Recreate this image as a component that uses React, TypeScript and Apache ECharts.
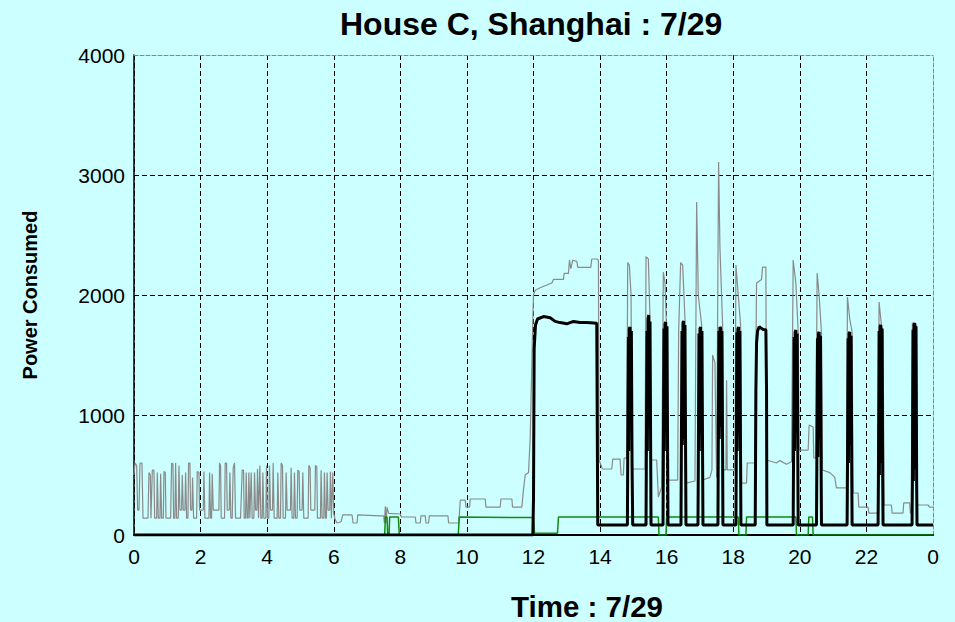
import React, { useEffect, useRef } from "react";
import * as echarts from "echarts";

const FONT = "'Liberation Sans', Arial, Helvetica, sans-serif";

const titleText = "House C, Shanghai : 7/29";
const xAxisTitle = "Time : 7/29";
const yAxisTitle = "Power Consumed";
const xTickLabels: Record<number, string> = { 0: "0", 2: "2", 4: "4", 6: "6", 8: "8", 10: "10", 12: "12", 14: "14", 16: "16", 18: "18", 20: "20", 22: "22", 24: "0" };
const yTickLabels: Record<number, string> = { 0: "0", 1000: "1000", 2000: "2000", 3000: "3000", 4000: "4000" };

// total power (thin gray)
const grayPower: [number, number][] = [
  [0, 500], [0.03, 600], [0.08, 580], [0.11, 208], [0.15, 208], [0.18, 600], [0.24, 600], [0.27, 140], [0.42, 140], [0.45, 520], [0.49, 500], [0.51, 140],
  [0.55, 540], [0.6, 540], [0.62, 140], [0.68, 140], [0.7, 520], [0.73, 140], [0.78, 140], [0.8, 510], [0.83, 140], [0.88, 140], [0.9, 530], [0.94, 520],
  [0.96, 140], [1.1, 140], [1.13, 600], [1.17, 590], [1.19, 140], [1.23, 140], [1.25, 600], [1.28, 140], [1.33, 140], [1.35, 580], [1.38, 208], [1.43, 208],
  [1.45, 500], [1.48, 208], [1.53, 208], [1.55, 520], [1.58, 140], [1.62, 140], [1.64, 600], [1.68, 600], [1.7, 208], [1.74, 208], [1.76, 480], [1.79, 140],
  [1.88, 140], [1.9, 530], [1.95, 520], [1.97, 208], [2.08, 208], [2.1, 530], [2.13, 140], [2.25, 140], [2.27, 520], [2.3, 140], [2.33, 140], [2.35, 510],
  [2.38, 208], [2.55, 208], [2.57, 600], [2.6, 580], [2.62, 140], [2.72, 140], [2.74, 600], [2.78, 600], [2.8, 208], [2.86, 208], [2.88, 520], [2.91, 140],
  [2.95, 140], [2.98, 560], [3.02, 600], [3.05, 140], [3.2, 140], [3.25, 540], [3.29, 540], [3.31, 140], [3.35, 140], [3.37, 520], [3.4, 140], [3.43, 140],
  [3.45, 520], [3.48, 140], [3.5, 140], [3.52, 520], [3.55, 140], [3.6, 140], [3.62, 520], [3.65, 208], [3.69, 208], [3.71, 550], [3.74, 140], [3.76, 140],
  [3.78, 580], [3.81, 140], [3.85, 140], [3.87, 520], [3.9, 140], [3.96, 140], [3.98, 580], [4.01, 140], [4.05, 140], [4.07, 580], [4.1, 208], [4.16, 208],
  [4.18, 600], [4.21, 140], [4.3, 140], [4.32, 520], [4.35, 140], [4.4, 140], [4.42, 600], [4.46, 580], [4.48, 140], [4.55, 140], [4.57, 520], [4.6, 208],
  [4.7, 208], [4.72, 560], [4.75, 140], [4.8, 140], [4.82, 520], [4.85, 140], [4.9, 140], [4.92, 540], [4.96, 530], [4.98, 208], [5.05, 208], [5.07, 520],
  [5.1, 140], [5.23, 140], [5.25, 580], [5.29, 560], [5.31, 208], [5.43, 208], [5.45, 580], [5.49, 570], [5.51, 140], [5.6, 140], [5.62, 540], [5.65, 140],
  [5.7, 140], [5.72, 520], [5.75, 140], [5.78, 140], [5.8, 520], [5.83, 208], [5.88, 208], [5.9, 530], [5.93, 140], [5.95, 140], [5.97, 520], [6.0, 180],
  [6.04, 130], [6.1, 100], [6.22, 110], [6.27, 167], [6.55, 167], [6.58, 100], [6.7, 100], [6.72, 167], [7.4, 160], [7.5, 160], [7.52, 100], [7.55, 240],
  [7.57, 100], [7.6, 230], [7.65, 180], [8.0, 175], [8.03, 150], [8.45, 150], [8.47, 100], [8.6, 100], [8.62, 160], [8.75, 160], [8.77, 100], [8.85, 100],
  [8.87, 160], [9.43, 160], [9.45, 100], [9.75, 100], [9.77, 160], [9.8, 290], [9.95, 290], [9.97, 233], [10.08, 233], [10.1, 300], [10.55, 300], [10.57, 233],
  [11.0, 233], [11.02, 300], [11.35, 300], [11.37, 233], [11.65, 233], [11.7, 380], [11.75, 500], [11.85, 520], [11.9, 800], [11.97, 1680], [12.0, 2000],
  [12.05, 2040], [12.2, 2060], [12.55, 2100], [12.6, 2130], [12.9, 2130], [12.92, 2180], [13.05, 2180], [13.08, 2290], [13.12, 2220], [13.18, 2290],
  [13.3, 2280], [13.33, 2230], [13.72, 2230], [13.75, 2300], [13.9, 2300], [13.95, 2290],
  [13.97, 625], [14.07, 550], [14.35, 550], [14.38, 633], [14.6, 633], [14.63, 500], [14.7, 500], [14.72, 640], [14.8, 640], [14.83, 2270], [14.88, 2250],
  [14.93, 2000], [14.96, 550], [15.35, 550], [15.38, 2320], [15.45, 2300], [15.5, 1800], [15.53, 625], [15.7, 625], [15.75, 317], [15.85, 400], [15.9, 2190],
  [15.95, 2100], [16.0, 1700], [16.03, 458], [16.33, 458], [16.36, 1700], [16.42, 2270], [16.48, 2250], [16.55, 1800], [16.58, 433], [16.85, 450],
  [16.9, 2775], [16.95, 2000], [17.05, 1750], [17.08, 458], [17.3, 480], [17.36, 542], [17.38, 1500], [17.45, 1433], [17.5, 480], [17.56, 3108],
  [17.6, 2400], [17.68, 1750], [17.7, 542], [17.78, 542], [17.8, 1290], [17.82, 542], [18.05, 542], [18.08, 2250], [18.15, 2000], [18.22, 1750],
  [18.25, 433], [18.4, 433], [18.42, 600], [18.65, 600], [18.7, 2100], [18.85, 2130], [18.88, 2233], [18.98, 2233], [19.0, 625], [19.3, 600], [19.4, 620],
  [19.6, 590], [19.75, 610], [19.8, 2292], [19.88, 2100], [19.95, 1700], [19.98, 708], [20.25, 708], [20.28, 917], [20.4, 900], [20.42, 642], [20.48, 642],
  [20.52, 2183], [20.58, 2000], [20.65, 1680], [20.68, 542], [20.9, 520], [21.05, 480], [21.1, 392], [21.4, 392], [21.43, 1983], [21.5, 1800],
  [21.57, 1690], [21.6, 350], [21.75, 350], [21.77, 233], [22.05, 233], [22.07, 183], [22.35, 183], [22.38, 1942], [22.45, 1750], [22.5, 1700],
  [22.53, 250], [22.75, 250], [22.77, 183], [23.1, 183], [23.12, 267], [23.3, 267], [23.32, 183], [23.35, 183], [23.38, 1767], [23.5, 1750], [23.53, 250],
  [23.85, 250], [23.9, 233], [24, 233],
];

// air conditioner (thick black)
const blackPower: [number, number][] = [
  [0, 0], [11.98, 0], [12.0, 300], [12.02, 1550], [12.06, 1750], [12.12, 1800], [12.3, 1820], [12.5, 1810], [12.65, 1780], [12.8, 1770], [13.0, 1760],
  [13.2, 1780], [13.4, 1770], [13.6, 1770], [13.9, 1765], [13.93, 83],
  [14.82, 83], [14.83, 620], [14.85, 1650], [14.86, 700], [14.88, 1720], [14.9, 1733], [14.92, 900], [14.94, 1700], [14.96, 600], [14.98, 83],
  [15.38, 83], [15.39, 650], [15.41, 1700], [15.42, 700], [15.44, 1800], [15.46, 1833], [15.48, 900], [15.5, 1780], [15.52, 650], [15.53, 83],
  [15.89, 83], [15.9, 600], [15.92, 1720], [15.93, 700], [15.95, 1760], [15.97, 1775], [15.99, 850], [16.01, 1740], [16.03, 600], [16.04, 83],
  [16.43, 83], [16.44, 620], [16.46, 1700], [16.47, 750], [16.49, 1770], [16.51, 1783], [16.53, 800], [16.55, 1750], [16.57, 600], [16.58, 83],
  [16.94, 83], [16.95, 550], [16.97, 1680], [16.98, 700], [17.0, 1720], [17.02, 1733], [17.04, 850], [17.06, 1700], [17.08, 600], [17.09, 83],
  [17.54, 83], [17.55, 700], [17.57, 1700], [17.58, 800], [17.6, 1733], [17.62, 1725], [17.64, 900], [17.66, 1700], [17.68, 700], [17.69, 83],
  [18.08, 83], [18.09, 600], [18.11, 1690], [18.12, 700], [18.14, 1720], [18.16, 1733], [18.18, 850], [18.2, 1700], [18.22, 600], [18.23, 83],
  [18.66, 83], [18.68, 1200], [18.7, 1600], [18.73, 1700], [18.78, 1735], [18.83, 1725], [18.9, 1712], [18.98, 1710], [19.0, 1200], [19.01, 83],
  [19.8, 83], [19.81, 600], [19.83, 1650], [19.84, 700], [19.86, 1690], [19.88, 1708], [19.9, 850], [19.92, 1680], [19.94, 600], [19.95, 83],
  [20.5, 83], [20.51, 550], [20.53, 1640], [20.54, 650], [20.56, 1680], [20.58, 1692], [20.6, 800], [20.62, 1660], [20.64, 550], [20.65, 83],
  [21.42, 83], [21.43, 500], [21.45, 1640], [21.46, 600], [21.48, 1680], [21.5, 1692], [21.52, 750], [21.54, 1660], [21.56, 500], [21.57, 83],
  [22.35, 83], [22.36, 450], [22.38, 1700], [22.39, 500], [22.41, 1740], [22.43, 1750], [22.45, 600], [22.47, 1720], [22.49, 450], [22.5, 83],
  [23.37, 83], [23.38, 400], [23.4, 1710], [23.41, 450], [23.43, 1750], [23.45, 1767], [23.47, 550], [23.49, 1740], [23.51, 400], [23.52, 83], [24, 83],
];

// other appliance (green)
const greenPower: [number, number][] = [
  [0, 0], [7.53, 0], [7.55, 150], [7.6, 150], [7.62, 0], [7.66, 0], [7.68, 150], [7.94, 150], [7.97, 0], [9.74, 0], [9.77, 150], [12.0, 145],
  [12.03, 15], [12.72, 15], [12.75, 150], [15.75, 150], [15.77, 0], [15.98, 0], [16.0, 150], [18.15, 150], [18.17, 0], [18.38, 0], [18.4, 150],
  [19.88, 150], [19.9, 0], [20.25, 0], [20.27, 150], [20.38, 150], [20.4, 0], [24, 0],
];

export default function App() {
  const ref = useRef<HTMLDivElement>(null);
  useEffect(() => {
    const chart = echarts.init(ref.current!, null, { renderer: "svg" });
    const dash = [5, 3];
    chart.setOption({
      animation: false,
      backgroundColor: "#ccffff",
      textStyle: { fontFamily: FONT },
      title: {
        text: titleText,
        left: 335,
        top: 3,
        textStyle: { fontFamily: FONT, fontSize: 32, fontWeight: "bold", color: "#000" },
      },
      grid: { left: 134, top: 55, width: 799, height: 480, containLabel: false, outerBoundsMode: "none" },
      xAxis: [
        {
          type: "value",
          min: 0,
          max: 24,
          interval: 2,
          position: "bottom",
          axisLine: { show: true, onZero: false, lineStyle: { color: "#000", width: 2 } },
          axisTick: { show: false },
          axisLabel: {
            color: "#000",
            fontSize: 21,
            fontFamily: FONT,
            margin: 11,
            formatter: (v: number) => xTickLabels[v] ?? String(v),
          },
          splitLine: { show: true, showMaxLine: false, lineStyle: { color: "#000", type: dash, width: 1 } },
        },
        {
          type: "value",
          min: 0,
          max: 24,
          interval: 2,
          position: "top",
          axisLine: { show: true, onZero: false, lineStyle: { color: "#888", type: [4, 2], width: 1 } },
          axisTick: { show: false },
          axisLabel: { show: false },
          splitLine: { show: false },
        },
      ],
      yAxis: [
        {
          type: "value",
          min: 0,
          max: 4000,
          interval: 1000,
          name: yAxisTitle,
          nameLocation: "middle",
          nameGap: 94,
          nameRotate: 90,
          nameTextStyle: { fontFamily: FONT, fontSize: 20, fontWeight: "bold", color: "#000" },
          axisLine: { show: true, onZero: false, lineStyle: { color: "#000", width: 1.5 } },
          axisTick: { show: false },
          axisLabel: {
            color: "#000",
            fontSize: 21,
            fontFamily: FONT,
            margin: 9,
            formatter: (v: number) => yTickLabels[v] ?? String(v),
          },
          splitLine: { show: true, showMaxLine: false, lineStyle: { color: "#000", type: dash, width: 1 } },
        },
        {
          type: "value",
          min: 0,
          max: 4000,
          interval: 1000,
          position: "right",
          axisLine: { show: true, onZero: false, lineStyle: { color: "#888", type: [4, 2], width: 1 } },
          axisTick: { show: false },
          axisLabel: { show: false },
          splitLine: { show: false },
        },
      ],
      graphic: [
        {
          type: "text",
          left: 511,
          top: 591,
          style: { text: xAxisTitle, fontFamily: FONT, fontSize: 29.5, fontWeight: "bold", fill: "#000" },
        },
      ],
      series: [
        {
          type: "line",
          data: grayPower,
          showSymbol: false,
          silent: true,
          z: 2,
          lineStyle: { color: "#8a8a8a", width: 1.2 },
        },
        {
          type: "line",
          data: greenPower,
          showSymbol: false,
          silent: true,
          z: 3,
          lineStyle: { color: "#118a11", width: 1.5 },
        },
        {
          type: "line",
          data: blackPower,
          showSymbol: false,
          silent: true,
          z: 4,
          lineStyle: { color: "#000", width: 3 },
        },
      ],
    });
    return () => chart.dispose();
  }, []);
  return <div ref={ref} style={{ position: "fixed", left: 0, top: 0, width: 955, height: 622 }} />;
}
